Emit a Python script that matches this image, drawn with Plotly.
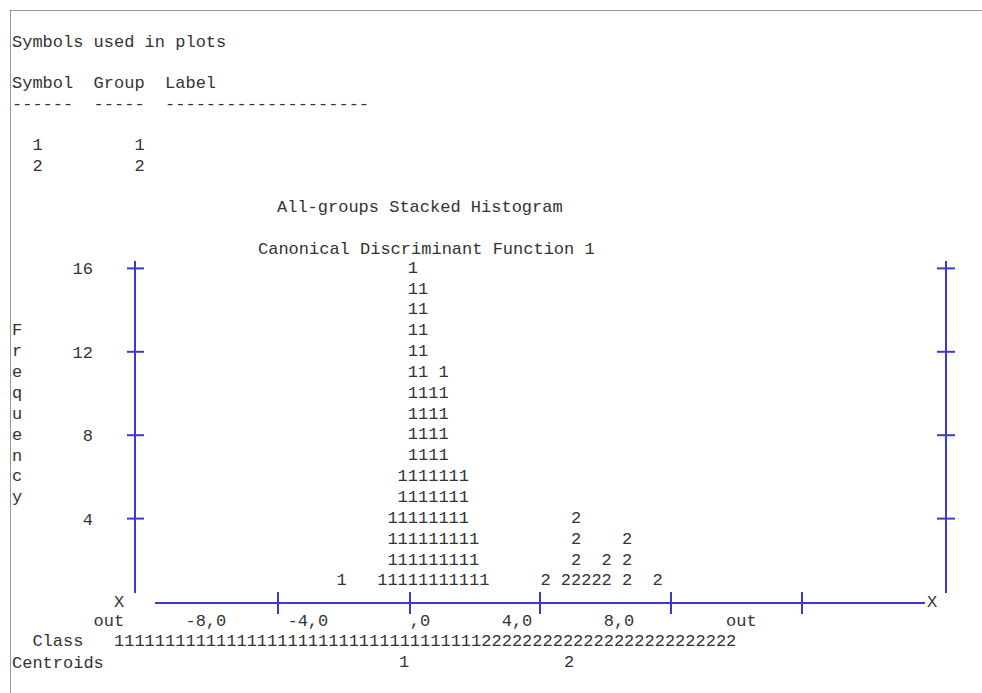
import plotly.graph_objects as go

# ---------------- data ----------------
symbols = ["1", "2"]
group_ids = ["1", "2"]
# bin centres on Canonical Discriminant Function 1 and stacked counts
bins_g1 = [-3.2, -1.6, -1.2, -0.8, -0.4, 0.0, 0.4, 0.8, 1.2, 1.6, 2.0, 2.4]
counts_g1 = [1, 1, 4, 6, 16, 15, 10, 11, 6, 6, 3, 1]
bins_g2 = [4.8, 5.6, 6.0, 6.4, 6.8, 7.2, 8.0, 9.2]
counts_g2 = [1, 1, 4, 1, 1, 2, 3, 1]
centroids = [-0.75, 5.73]
freq_ticks = [4, 8, 12, 16]
freq_ticktext = ["4", "8", "12", "16"]
x_ticktext = ["out", "-8,0", "-4,0", ",0", "4,0", "8,0", "out"]
class_counts = [36, 25]  # territory map: columns classified as group 1 / group 2

# ---------------- layout constants ----------------
W, H = 982, 693
FONT = "Liberation Mono, Courier New, monospace"
FS = 17
TXT = "#333333"
BLUE = "#3a3ad2"
CW = 10.24          # character cell width (px)
X0 = 11             # left edge of text column 0
LH = 20.7           # line height
Y0 = 42             # first text line centre
NB = "\u00a0"


def line_y(k):
    return Y0 + LH * k


def grid_string(items):
    s = ""
    for col, txt in items:
        s += NB * (col - len(s)) + txt
    return s


fig = go.Figure()

# -------- histogram characters (stacked) --------
stack = {}
for sym, bins, counts in [(symbols[0], bins_g1, counts_g1), (symbols[1], bins_g2, counts_g2)]:
    xs, ys = [], []
    for b, c in zip(bins, counts):
        key = round(b, 3)
        base = stack.get(key, 0)
        for lvl in range(base + 1, base + c + 1):
            xs.append(b)
            ys.append(lvl)
        stack[key] = base + c
    fig.add_trace(go.Scatter(
        x=xs, y=ys, mode="text", text=[sym] * len(xs),
        textposition="middle center",
        textfont=dict(family=FONT, size=FS, color=TXT),
        xaxis="x2", yaxis="y2", showlegend=False, hoverinfo="skip"))

# centroids row
fig.add_trace(go.Scatter(
    x=centroids, y=[line_y(30)] * len(centroids), mode="text", text=group_ids,
    textposition="middle center",
    textfont=dict(family=FONT, size=FS, color=TXT),
    xaxis="x2", yaxis="y", showlegend=False, hoverinfo="skip"))

# -------- static text lines --------
anns = []


def add_text(x, y, s, anchor="left", yref="y"):
    anns.append(dict(x=x, y=y, xref="x", yref=yref, text=s.replace(" ", NB),
                     showarrow=False, xanchor=anchor, yanchor="middle",
                     font=dict(family=FONT, size=FS, color=TXT), borderpad=0))


add_text(X0, line_y(0), "Symbols used in plots")
add_text(X0, line_y(2), "Symbol  Group  Label")
add_text(X0, line_y(3), "------  -----  " + "-" * 20)
for i, (sym, gid) in enumerate(zip(symbols, group_ids)):
    add_text(X0, line_y(5 + i), grid_string([(2, sym), (12, gid)]))
add_text(276, line_y(8), "All-groups Stacked Histogram")
add_text(257, line_y(10), "Canonical Discriminant Function 1")

# vertical axis title "Frequency"
for i, ch in enumerate("Frequency"):
    add_text(X0, 13 - i, ch, yref="y2")

# X markers
add_text(X0 + 10 * CW, 602, "X")
add_text(926, 602, "X")
# x tick label row
cols = [8, 17, 27, 39, 48, 58, 70]
add_text(X0, line_y(28) - 0.5, grid_string(list(zip(cols, x_ticktext))))
# class row
add_text(X0, line_y(29) - 0.5, grid_string([(2, "Class"), (10, symbols[0] * class_counts[0] + symbols[1] * class_counts[1])]))
add_text(X0, line_y(30), "Centroids")

# -------- blue axis graphics --------
shapes = []


def seg(x0, y0, x1, y1, yref="y", color=BLUE, width=2, dash="solid"):
    shapes.append(dict(type="line", x0=x0, y0=y0, x1=x1, y1=y1, xref="x", yref=yref,
                       line=dict(color=color, width=width, dash=dash), layer="above"))


for xv in (135, 946):
    seg(xv, 261, xv, 593)
for f in freq_ticks:
    seg(127, f, 144, f, yref="y2")
    seg(937, f, 955, f, yref="y2")
seg(155, 603, 925, 603)
for xt in (278, 410, 540, 671, 802):
    seg(xt, 592, xt, 614)

# dotted page border
seg(10.5, 10.5, W, 10.5, color="#333333", width=1, dash="1px,1px")
seg(10.5, 10.5, 10.5, H, color="#333333", width=1, dash="1px,1px")

# pixel <-> data mapping for the histogram axes
PX0 = 423.1      # pixel of function value 0
PXU = 25.5       # pixels per function unit
PY0 = 602.0      # pixel of frequency 0
PYU = 20.85      # pixels per frequency unit

fig.update_layout(
    width=W, height=H, margin=dict(l=0, r=0, t=0, b=0),
    paper_bgcolor="white", plot_bgcolor="white",
    showlegend=False,
    xaxis=dict(range=[0, W], visible=False, fixedrange=True),
    yaxis=dict(range=[H, 0], visible=False, fixedrange=True),
    xaxis2=dict(overlaying="x", range=[(0 - PX0) / PXU, (W - PX0) / PXU], visible=False),
    yaxis2=dict(overlaying="y", anchor="free", position=93 / W, side="left",
                range=[(PY0 - H) / PYU, PY0 / PYU],
                tickvals=freq_ticks, ticktext=freq_ticktext, ticks="",
                showgrid=False, zeroline=False, showline=False,
                tickfont=dict(family=FONT, size=FS, color=TXT)),
    annotations=anns, shapes=shapes,
)

fig.write_html("out.html", config={"displayModeBar": False},
               post_script="document.body.style.margin='0';document.body.style.overflow='hidden';")
